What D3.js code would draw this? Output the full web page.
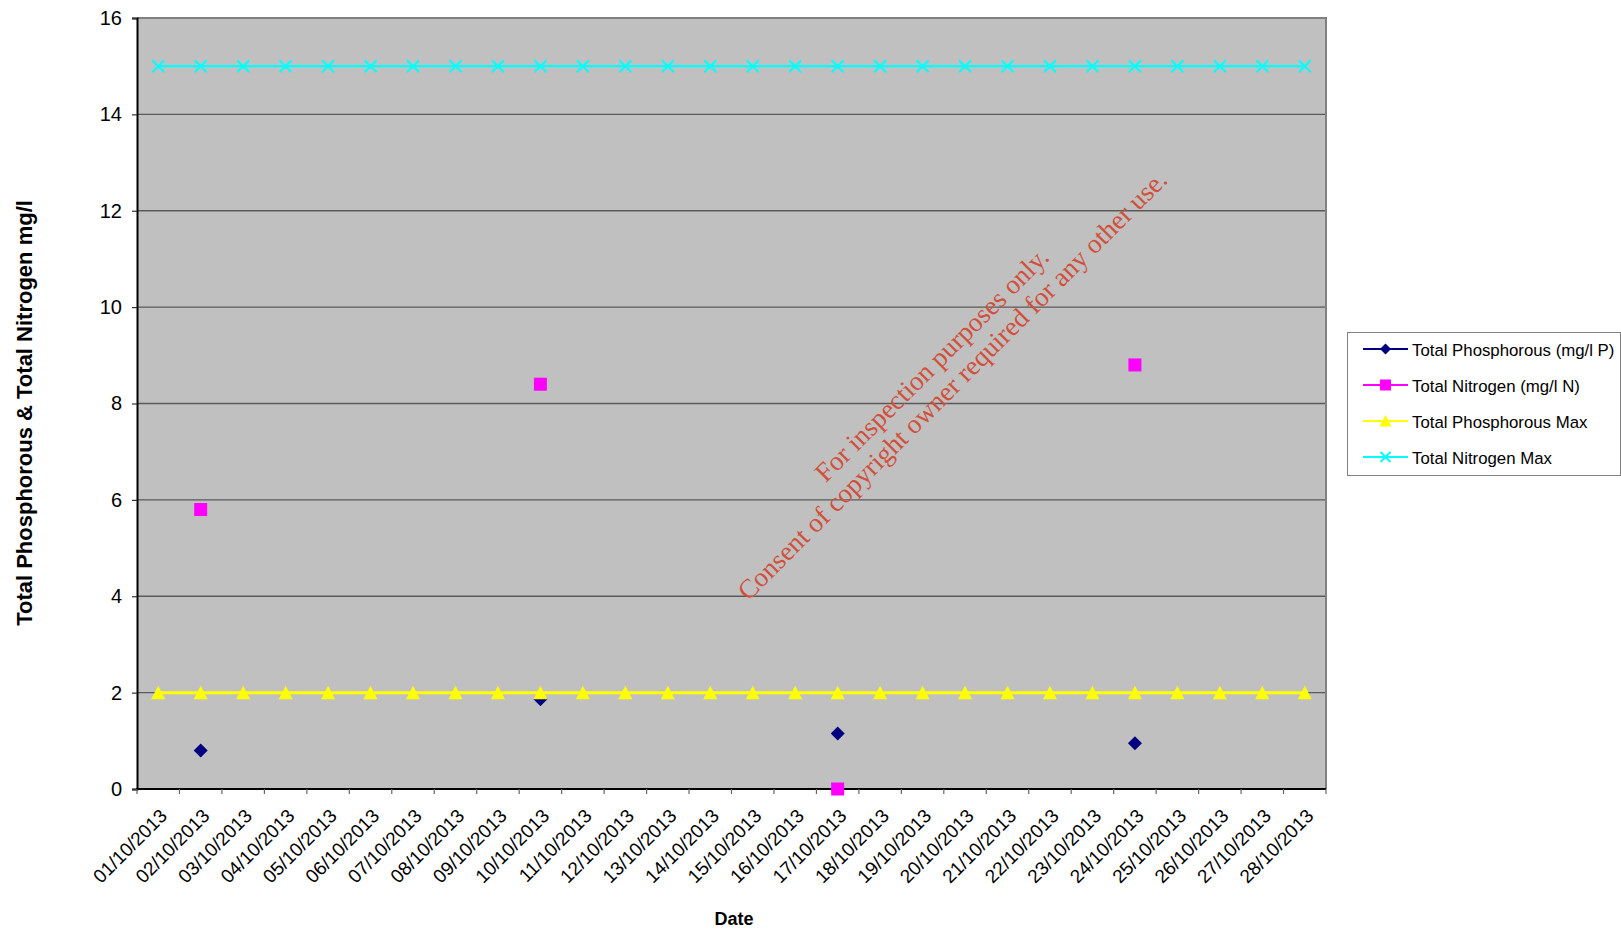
<!DOCTYPE html>
<html>
<head>
<meta charset="utf-8">
<script src="https://cdn.jsdelivr.net/npm/d3@7"></script>
<style>
  html, body { margin: 0; padding: 0; background: #ffffff; }
  svg { display: block; font-family: "Liberation Sans", Arial, sans-serif; }
</style>
</head>
<body>
<svg id="chart" width="1621" height="929"></svg>
<script>
// ---- data ----
const dates = [
  "01/10/2013","02/10/2013","03/10/2013","04/10/2013","05/10/2013","06/10/2013","07/10/2013",
  "08/10/2013","09/10/2013","10/10/2013","11/10/2013","12/10/2013","13/10/2013","14/10/2013",
  "15/10/2013","16/10/2013","17/10/2013","18/10/2013","19/10/2013","20/10/2013","21/10/2013",
  "22/10/2013","23/10/2013","24/10/2013","25/10/2013","26/10/2013","27/10/2013","28/10/2013"
];
const totalPhosphorous = [null,0.8,null,null,null,null,null,null,null,1.86,null,null,null,null,null,null,1.15,null,null,null,null,null,null,0.95,null,null,null,null];
const totalNitrogen    = [null,5.8,null,null,null,null,null,null,null,8.4,null,null,null,null,null,null,0,null,null,null,null,null,null,8.8,null,null,null,null];
const totalPhosphorousMax = [2,2,2,2,2,2,2,2,2,2,2,2,2,2,2,2,2,2,2,2,2,2,2,2,2,2,2,2];
const totalNitrogenMax    = [15,15,15,15,15,15,15,15,15,15,15,15,15,15,15,15,15,15,15,15,15,15,15,15,15,15,15,15];
const yTicks = [0,2,4,6,8,10,12,14,16];
const seriesNames = ["Total Phosphorous (mg/l P)","Total Nitrogen (mg/l N)","Total Phosphorous Max","Total Nitrogen Max"];
const seriesColors = ["#000080","#ff00ff","#ffff00","#00ffff"];
const seriesSymbols = ["diamond","square","triangle","cross"];
const watermark = ["For inspection purposes only.","Consent of copyright owner required for any other use."];

// ---- layout ----
const plot = {left: 137, right: 1326, top: 18, bottom: 789};
const svg = d3.select("#chart");

const x = d3.scaleBand().domain(dates).range([plot.left, plot.right]).padding(0);
const y = d3.scaleLinear().domain([0,16]).range([plot.bottom, plot.top]);
const cx = d => x(d) + x.bandwidth()/2;

// plot background
svg.append("rect")
  .attr("x", plot.left).attr("y", plot.top)
  .attr("width", plot.right - plot.left).attr("height", plot.bottom - plot.top)
  .attr("fill", "#c0c0c0");

// gridlines
svg.append("g").selectAll("line").data(yTicks.filter(t => t > 0 && t < 16)).join("line")
  .attr("x1", plot.left).attr("x2", plot.right)
  .attr("y1", d => y(d)).attr("y2", d => y(d))
  .attr("stroke", "#5a5a5a").attr("stroke-width", 1.3);

// border top / right
svg.append("path")
  .attr("d", `M${plot.left},${plot.top}H${plot.right}V${plot.bottom}`)
  .attr("fill", "none").attr("stroke", "#808080").attr("stroke-width", 2);

// y axis
const yAxis = svg.append("g")
  .attr("transform", `translate(${plot.left},0)`)
  .call(d3.axisLeft(y).tickValues(yTicks).tickSize(5).tickPadding(10).tickFormat(d3.format("d")));
yAxis.attr("font-family", null).attr("font-size", null);
yAxis.select(".domain").attr("stroke", "#000").attr("stroke-width", 2);
yAxis.selectAll(".tick line").attr("stroke", "#333").attr("stroke-width", 1.2);
yAxis.selectAll(".tick text").style("font-size", "20px").attr("fill", "#000");

// x axis line
svg.append("line")
  .attr("x1", plot.left - 1).attr("x2", plot.right)
  .attr("y1", plot.bottom).attr("y2", plot.bottom)
  .attr("stroke", "#000").attr("stroke-width", 2);

// x ticks at category boundaries
const boundaries = dates.map(d => x(d)).concat([plot.right]);
svg.append("g").selectAll("line").data(boundaries).join("line")
  .attr("x1", d => d).attr("x2", d => d)
  .attr("y1", plot.bottom).attr("y2", plot.bottom + 5)
  .attr("stroke", "#666").attr("stroke-width", 1.2);

// x labels
svg.append("g").selectAll("text").data(dates).join("text")
  .attr("transform", d => `translate(${cx(d) + 10},${plot.bottom + 28}) rotate(-45)`)
  .attr("text-anchor", "end")
  .style("font-size", "19px")
  .attr("fill", "#000")
  .text(d => d);

// axis titles
svg.append("text")
  .attr("transform", `translate(32,413) rotate(-90)`)
  .attr("text-anchor", "middle")
  .style("font-size", "22px").style("font-weight", "bold").attr("fill", "#000")
  .text("Total Phosphorous & Total Nitrogen mg/l");

svg.append("text")
  .attr("x", 734).attr("y", 925)
  .attr("text-anchor", "middle")
  .style("font-size", "18px").style("font-weight", "bold").attr("fill", "#000")
  .text("Date");

// ---- series ----
function drawMarker(sel, symbol, color, size) {
  const s = size / 2;
  if (symbol === "cross") {
    sel.append("path")
      .attr("d", `M${-s},${-s}L${s},${s}M${-s},${s}L${s},${-s}`)
      .attr("stroke", color).attr("stroke-width", 2).attr("fill", "none");
  } else if (symbol === "diamond") {
    sel.append("path").attr("d", `M0,${-s}L${s},0L0,${s}L${-s},0Z`).attr("fill", color);
  } else if (symbol === "square") {
    sel.append("rect").attr("x", -s).attr("y", -s).attr("width", size).attr("height", size).attr("fill", color);
  } else if (symbol === "triangle") {
    sel.append("path").attr("d", `M0,${-s-0.5}L${s+0.5},${s}L${-s-0.5},${s}Z`).attr("fill", color);
  }
}

const allSeries = [totalPhosphorous, totalNitrogen, totalPhosphorousMax, totalNitrogenMax];
const markerSize = [14, 13, 13, 12];
const lineWidth = [2, 2, 3, 2.2];

[0, 1, 2, 3].forEach(i => {
  const vals = allSeries[i];
  const pts = dates.map((d, k) => ({d, v: vals[k]}));
  const line = d3.line()
    .defined(p => p.v !== null)
    .x(p => cx(p.d)).y(p => y(p.v));
  svg.append("path")
    .datum(pts)
    .attr("d", line)
    .attr("fill", "none")
    .attr("stroke", seriesColors[i])
    .attr("stroke-width", lineWidth[i]);
  const g = svg.append("g");
  pts.filter(p => p.v !== null).forEach(p => {
    const m = g.append("g").attr("transform", `translate(${cx(p.d)},${y(p.v)})`);
    drawMarker(m, seriesSymbols[i], seriesColors[i], markerSize[i]);
  });
});

// ---- watermark ----
const wm = svg.append("g").attr("transform", "translate(948,381) rotate(-45)");
wm.selectAll("text").data(watermark).join("text")
  .attr("x", 0).attr("y", (d, i) => i === 0 ? -14 : 15)
  .attr("text-anchor", "middle")
  .style("font-family", "'Liberation Serif', 'Times New Roman', serif")
  .style("font-size", "27px")
  .attr("fill", "#d0503c")
  .text(d => d);

// ---- legend ----
const legend = svg.append("g");
legend.append("rect")
  .attr("x", 1347.5).attr("y", 332.5).attr("width", 1621 - 1348).attr("height", 143)
  .attr("fill", "#ffffff").attr("stroke", "#808080").attr("stroke-width", 1);
const rowY = [349, 385, 421, 457];
seriesNames.forEach((name, i) => {
  const r = legend.append("g").attr("transform", `translate(0,${rowY[i]})`);
  r.append("line").attr("x1", 1363).attr("x2", 1408).attr("y1", 0).attr("y2", 0)
    .attr("stroke", seriesColors[i]).attr("stroke-width", 2.2);
  const m = r.append("g").attr("transform", "translate(1385.5,0)");
  drawMarker(m, seriesSymbols[i], seriesColors[i], i === 3 ? 10 : 11);
  r.append("text").attr("x", 1412).attr("y", 6.5)
    .style("font-size", "16.8px").attr("fill", "#000")
    .text(name);
});
</script>
</body>
</html>
